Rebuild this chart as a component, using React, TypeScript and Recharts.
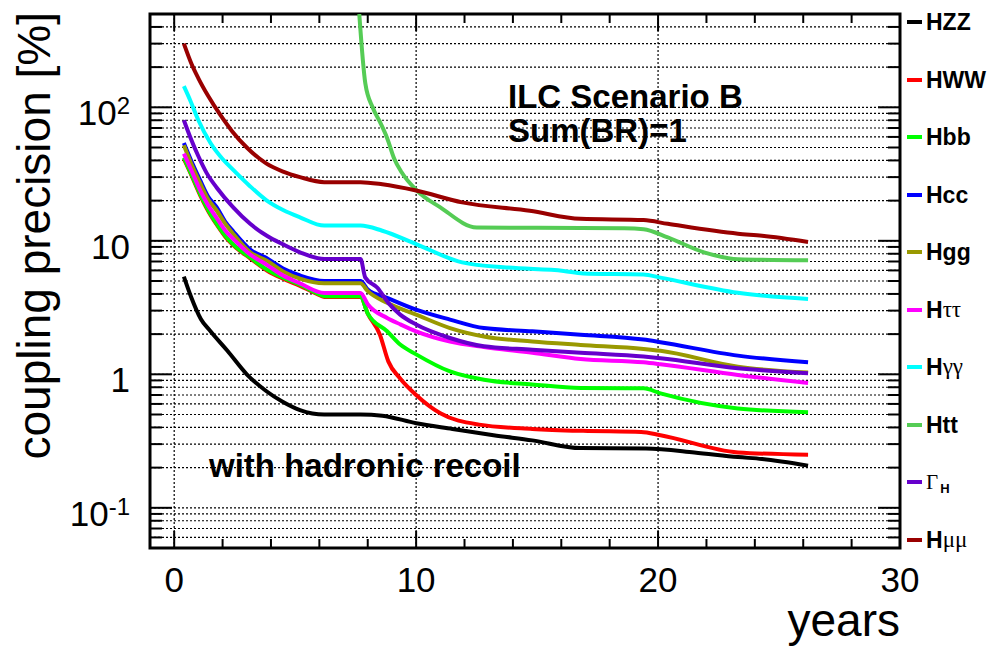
import React from 'react';
import { LineChart, Line, XAxis, YAxis, CartesianGrid, ReferenceArea, Legend } from 'recharts';

type Pt = [number, number];

// values: [year, precision %]
const hzz: Pt[] = [[0.4, 5.4], [0.7, 3.8], [1.1, 2.6], [1.5, 2.1], [2.2, 1.5], [3.0, 1.0], [3.8, 0.75], [4.5, 0.62], [5.2, 0.54], [6.2, 0.5], [7.7, 0.5], [8.6, 0.49], [10.0, 0.43], [11.5, 0.39], [13.2, 0.35], [14.8, 0.32], [16.8, 0.28], [19.5, 0.278], [21.5, 0.26], [23.3, 0.24], [24.3, 0.232], [26.2, 0.207]];
const hww: Pt[] = [[0.4, 41], [0.66, 32.5], [1.07, 22], [1.5, 15.6], [1.76, 13.2], [2.17, 10.4], [2.58, 8.8], [3.14, 7.4], [3.83, 6.0], [4.5, 5.2], [5.2, 4.6], [5.9, 4.0], [6.2, 3.8], [7.7, 3.8], [8.0, 2.85], [8.5, 1.99], [8.85, 1.25], [9.34, 0.93], [10.0, 0.7], [11.0, 0.51], [12.6, 0.42], [14.8, 0.39], [16.9, 0.377], [19.3, 0.37], [20.1, 0.35], [23.3, 0.26], [26.2, 0.25]];
const hbb: Pt[] = [[0.4, 42], [0.66, 33], [1.07, 22.5], [1.5, 15.9], [1.76, 13.4], [2.17, 10.6], [2.58, 8.9], [3.14, 7.5], [3.83, 6.1], [4.5, 5.3], [5.2, 4.7], [5.9, 4.05], [6.2, 3.85], [7.7, 3.85], [8.0, 2.85], [8.8, 2.1], [9.34, 1.67], [10.0, 1.41], [11.4, 1.05], [12.8, 0.91], [14.8, 0.84], [16.8, 0.79], [19.4, 0.785], [20.1, 0.72], [23.3, 0.555], [26.2, 0.52]];
const hcc: Pt[] = [[0.4, 54], [0.7, 40], [1.07, 28.5], [1.4, 21.5], [1.76, 17.8], [2.1, 14], [2.45, 11.7], [3.14, 8.6], [3.83, 7.4], [4.5, 6.2], [5.2, 5.5], [6.2, 5.0], [7.7, 5.0], [8.0, 4.32], [8.8, 3.74], [10.0, 3.05], [11.4, 2.57], [12.8, 2.22], [14.8, 2.1], [16.8, 1.98], [19.4, 1.82], [20.1, 1.74], [23.3, 1.38], [26.2, 1.23]];
const hgg: Pt[] = [[0.4, 52], [0.7, 38], [1.07, 27], [1.4, 20.5], [1.76, 16.8], [2.1, 13.5], [2.45, 11.2], [3.14, 8.2], [3.83, 7.1], [4.5, 5.9], [5.2, 5.2], [6.2, 4.8], [7.7, 4.8], [8.0, 4.2], [8.8, 3.43], [10.0, 2.8], [11.4, 2.22], [12.8, 1.92], [14.8, 1.76], [16.8, 1.66], [19.4, 1.55], [20.1, 1.5], [23.3, 1.14], [26.2, 1.03]];
const htautau: Pt[] = [[0.4, 45], [0.7, 34], [1.07, 24], [1.4, 18.5], [1.76, 14.8], [2.1, 12], [2.45, 10.3], [3.14, 7.9], [3.83, 6.6], [4.5, 5.5], [5.2, 4.8], [6.2, 4.07], [7.7, 4.07], [8.0, 3.35], [8.8, 2.64], [9.34, 2.37], [10.0, 2.1], [11.4, 1.76], [12.8, 1.6], [14.8, 1.45], [16.8, 1.3], [19.4, 1.23], [20.1, 1.19], [23.3, 0.99], [26.2, 0.86]];
const hgamgam: Pt[] = [[0.4, 144], [0.66, 113], [1.0, 80], [1.5, 54], [2.0, 41], [2.44, 34], [3.1, 26], [3.83, 20], [4.5, 17], [5.2, 15], [6.2, 13], [7.7, 13], [8.6, 11.9], [10.0, 9.45], [11.9, 6.9], [13.8, 6.3], [16.1, 5.95], [16.9, 5.7], [19.4, 5.6], [20.1, 5.3], [23.3, 4.08], [26.2, 3.67]];
const htt: Pt[] = [[7.65, 500], [7.9, 151], [8.2, 100], [8.5, 78], [8.8, 59], [9.1, 41], [9.4, 32.6], [10.03, 23.8], [11.0, 17.8], [12.5, 12.6], [18.6, 12.4], [19.4, 12.2], [20.4, 10.6], [21.9, 8.2], [23.3, 7.28], [26.2, 7.15]];
const gammaH: Pt[] = [[0.4, 80], [0.66, 60], [1.0, 43], [1.35, 32], [1.76, 25], [2.44, 17.8], [3.14, 13.4], [3.83, 10.9], [4.5, 9.4], [5.2, 8.2], [6.2, 7.3], [7.7, 7.3], [7.9, 5.3], [8.4, 4.45], [8.85, 3.43], [9.34, 2.8], [10.0, 2.36], [11.4, 1.87], [12.8, 1.62], [14.8, 1.53], [16.8, 1.45], [19.4, 1.36], [20.1, 1.32], [23.3, 1.11], [26.2, 1.02]];
const hmumu: Pt[] = [[0.4, 300], [0.7, 215], [1.0, 165], [1.4, 122], [1.9, 88], [2.4, 66], [3.0, 50], [3.8, 38], [4.5, 33], [5.2, 30], [6.2, 27.5], [7.7, 27.5], [8.6, 26.5], [10.0, 23.8], [11.9, 19.4], [14.7, 16.8], [16.8, 14.6], [19.4, 14.3], [20.4, 13.4], [23.3, 11.3], [24.3, 10.9], [26.2, 9.8]];

const SERIES = [
  { key: 'HZZ', main: 'HZZ', greek: '', color: '#000000', pts: hzz },
  { key: 'HWW', main: 'HWW', greek: '', color: '#ff0000', pts: hww },
  { key: 'Hbb', main: 'Hbb', greek: '', color: '#00ff00', pts: hbb },
  { key: 'Hcc', main: 'Hcc', greek: '', color: '#0000ff', pts: hcc },
  { key: 'Hgg', main: 'Hgg', greek: '', color: '#999900', pts: hgg },
  { key: 'Htautau', main: 'H', greek: 'ττ', color: '#ff00ff', pts: htautau },
  { key: 'Hgamgam', main: 'H', greek: 'γγ', color: '#00ffff', pts: hgamgam },
  { key: 'Htt', main: 'Htt', greek: '', color: '#55cc55', pts: htt },
  { key: 'GammaH', main: '', greek: 'Γ', color: '#6600cc', pts: gammaH },
  { key: 'Hmumu', main: 'H', greek: 'μμ', color: '#990000', pts: hmumu },
];

const xTicks = [0, 2, 4, 6, 8, 10, 12, 14, 16, 18, 20, 22, 24, 26, 28, 30];
const xMajor = [0, 10, 20, 30];
const xGrid = [0, 10, 20];
const yTicks = [0.05, 0.06, 0.07, 0.08, 0.09, 0.1, 0.2, 0.3, 0.4, 0.5, 0.6, 0.7, 0.8, 0.9, 1, 2, 3, 4, 5, 6, 7, 8, 9, 10, 20, 30, 40, 50, 60, 70, 80, 90, 100, 200, 300, 400, 500];
const yLabels: Record<string, [string, string]> = { '0.1': ['10', '-1'], '1': ['1', ''], '10': ['10', ''], '100': ['10', '2'] };

const FONT = '"Liberation Sans", Arial, Helvetica, sans-serif';
const GREEK_FONT = '"Liberation Serif", "Times New Roman", serif';

function BottomTick(props: any) {
  const { x, y, payload } = props;
  const major = xMajor.includes(payload.value);
  return (
    <g>
      <line x1={x} x2={x} y1={y} y2={y - (major ? 17 : 9)} stroke="#000" strokeWidth={2} />
      {major && (
        <text x={x} y={y + 44} textAnchor="middle" fontSize={35} fontFamily={FONT} fill="#000">{payload.value}</text>
      )}
    </g>
  );
}

function TopTick(props: any) {
  const { x, y, payload } = props;
  const major = xMajor.includes(payload.value);
  return <line x1={x} x2={x} y1={y} y2={y + (major ? 17 : 9)} stroke="#000" strokeWidth={2} />;
}

function LeftTick(props: any) {
  const { x, y, payload } = props;
  const lab = yLabels[String(payload.value)];
  return (
    <g>
      <line x1={x} x2={x + (lab ? 22 : 12)} y1={y} y2={y} stroke="#000" strokeWidth={2} />
      {lab && (
        <text x={x - 20} y={y + 18} textAnchor="end" fontSize={35} fontFamily={FONT} fill="#000">
          {lab[0]}
          {lab[1] && <tspan dy={-11} fontSize={24}>{lab[1]}</tspan>}
        </text>
      )}
    </g>
  );
}

function RightTick(props: any) {
  const { x, y, payload } = props;
  const major = !!yLabels[String(payload.value)];
  return <line x1={x} x2={x - (major ? 22 : 12)} y1={y} y2={y} stroke="#000" strokeWidth={2} />;
}

function LegendBox() {
  return (
    <div style={{ position: 'relative', width: 82, height: 647, fontFamily: FONT }}>
      {SERIES.map((s, i) => (
        <div
          key={s.key}
          style={{ position: 'absolute', left: 0, top: 10 + i * 57.5, height: 24, lineHeight: '24px', display: 'flex', alignItems: 'center', whiteSpace: 'nowrap' }}
        >
          <span style={{ display: 'inline-block', width: 15, height: 4, background: s.color, marginRight: 4 }} />
          {s.main && <span style={{ fontWeight: 700, fontSize: 23 }}>{s.main}</span>}
          {s.greek && <span style={{ fontFamily: GREEK_FONT, fontSize: s.key === 'GammaH' ? 21 : 23 }}>{s.greek}</span>}
          {s.key === 'GammaH' && <span style={{ fontWeight: 700, fontSize: 13, position: 'relative', top: 7, marginLeft: 2 }}>H</span>}
        </div>
      ))}
    </div>
  );
}

export default function App() {
  return (
    <div style={{ position: 'absolute', left: 0, top: 0, width: 991, height: 647, background: '#fff' }}>
      <LineChart width={991} height={647} margin={{ top: 13, right: 90, bottom: 98, left: 149 }}>
        <CartesianGrid stroke="#000" strokeWidth={1.2} strokeDasharray="2 2" verticalValues={xGrid} />
        <XAxis type="number" dataKey="t" domain={[-1, 30]} allowDataOverflow ticks={xTicks} interval={0}
          height={1} tickSize={0} tickMargin={0} axisLine={false} tickLine={false} tick={<BottomTick />} />
        <XAxis xAxisId="top" orientation="top" type="number" dataKey="t" domain={[-1, 30]} allowDataOverflow ticks={xTicks} interval={0}
          height={1} tickSize={0} tickMargin={0} axisLine={false} tickLine={false} tick={<TopTick />} />
        <YAxis type="number" scale="log" domain={[0.05, 500]} allowDataOverflow ticks={yTicks} interval={0}
          width={1} tickSize={0} tickMargin={0} axisLine={false} tickLine={false} tick={<LeftTick />} />
        <YAxis yAxisId="right" orientation="right" type="number" scale="log" domain={[0.05, 500]} allowDataOverflow ticks={yTicks} interval={0}
          width={1} tickSize={0} tickMargin={0} axisLine={false} tickLine={false} tick={<RightTick />} />
        {SERIES.map(s => (
          <Line
            key={s.key}
            data={s.pts.map(([t, v]) => ({ t, v }))}
            dataKey="v"
            name={s.key}
            type="monotone"
            stroke={s.color}
            strokeWidth={4}
            dot={false}
            activeDot={false}
            isAnimationActive={false}
          />
        ))}
        <ReferenceArea x1={-1} x2={30} y1={0.05} y2={500} fill="none" stroke="#000" strokeWidth={3} ifOverflow="visible" />
        <Legend layout="horizontal" align="center" verticalAlign="middle" width={82} height={647}
          wrapperStyle={{ left: 907, top: 0 }} content={() => <LegendBox />} />
      </LineChart>
      <svg width={991} height={647} style={{ position: 'absolute', left: 0, top: 0, pointerEvents: 'none' }} fontFamily={FONT}>
        <text x={50} y={12} transform="rotate(-90 50 12)" textAnchor="end" fontSize={46} fill="#000">coupling precision [%]</text>
        <text x={900} y={636} textAnchor="end" fontSize={46} fill="#000">years</text>
        <text x={508} y={108} fontSize={33} fontWeight="bold" fill="#000">ILC Scenario B</text>
        <text x={508} y={142} fontSize={33} fontWeight="bold" fill="#000">Sum(BR)=1</text>
        <text x={209} y={477} fontSize={33} fontWeight="bold" fill="#000">with hadronic recoil</text>
      </svg>
    </div>
  );
}
